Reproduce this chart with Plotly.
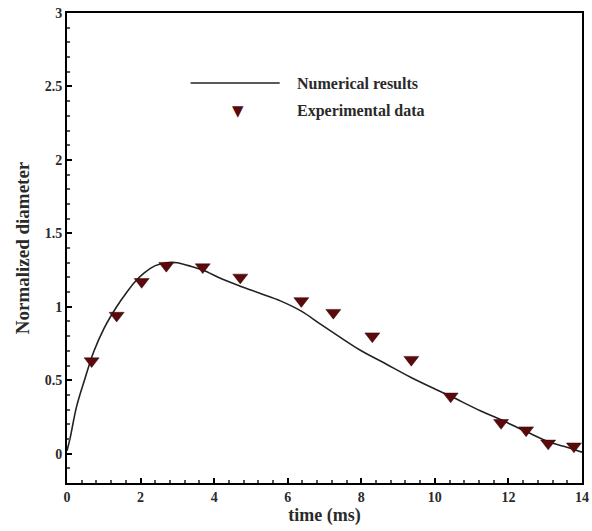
import plotly.graph_objects as go

# Numerical results (line)
num_time = [0.0, 0.08, 0.26, 0.5, 0.72, 1.0, 1.35, 1.6, 1.85, 2.1, 2.4, 2.7, 3.0, 3.3, 3.69,
            4.2, 4.71, 5.26, 5.8, 6.37, 6.9, 7.44, 8.0, 8.6, 9.34, 10.0, 10.43, 11.25, 11.8,
            12.48, 13.1, 13.5, 14.0]
num_diam = [0.02, 0.1, 0.32, 0.52, 0.69, 0.85, 1.0, 1.09, 1.17, 1.23, 1.28, 1.30, 1.30, 1.28, 1.25,
            1.19, 1.14, 1.09, 1.04, 0.97, 0.88, 0.79, 0.70, 0.62, 0.52, 0.44, 0.39, 0.29, 0.23,
            0.15, 0.08, 0.05, 0.01]

# Experimental data (markers)
exp_time = [0.67, 1.35, 2.03, 2.70, 3.69, 4.71, 6.37, 7.24, 8.30, 9.36, 10.43, 11.80, 12.48, 13.08, 13.78]
exp_diam = [0.63, 0.94, 1.17, 1.28, 1.27, 1.20, 1.04, 0.96, 0.80, 0.64, 0.39, 0.21, 0.16, 0.07, 0.05]

legend_labels = ["Numerical results", "Experimental data"]
x_ticks = [0, 2, 4, 6, 8, 10, 12, 14]
y_ticks = [0, 0.5, 1, 1.5, 2, 2.5, 3]
y_tick_text = ["0", "0.5", "1", "1.5", "2", "2.5", "3"]

MARKER_COLOR = "#5a0a0c"
FONT = "Liberation Serif"
TEXT_COLOR = "#2a2a2a"

fig = go.Figure()
fig.add_trace(go.Scatter(x=num_time, y=num_diam, mode="lines", name=legend_labels[0],
                         line=dict(color="#222222", width=1.6, shape="spline", smoothing=1.0),
                         showlegend=False))
fig.add_trace(go.Scatter(x=exp_time, y=exp_diam, mode="markers", name=legend_labels[1],
                         marker=dict(symbol="triangle-down", size=13, color=MARKER_COLOR,
                                     line=dict(color="#3a0505", width=0.5)), showlegend=False))

# custom legend (long line sample as in the original)
fig.add_shape(type="line", xref="paper", yref="paper", x0=0.240, x1=0.413, y0=0.851, y1=0.851,
              line=dict(color="#222222", width=1.6))
fig.add_annotation(xref="paper", yref="paper", x=0.443, y=0.851, xanchor="left", yanchor="middle",
                   text="<b>" + legend_labels[0] + "</b>", showarrow=False,
                   font=dict(family=FONT, size=16, color=TEXT_COLOR))
fig.add_annotation(xref="paper", yref="paper", x=0.333, y=0.792, xanchor="center", yanchor="middle",
                   text="▼", showarrow=False, font=dict(family="DejaVu Sans", size=15, color=MARKER_COLOR))
fig.add_annotation(xref="paper", yref="paper", x=0.443, y=0.792, xanchor="left", yanchor="middle",
                   text="<b>" + legend_labels[1] + "</b>", showarrow=False,
                   font=dict(family=FONT, size=16, color=TEXT_COLOR))

axis_common = dict(showline=True, linecolor="black", linewidth=2, mirror=True,
                   ticks="inside", tickcolor="black", ticklen=5, tickwidth=1.5,
                   showgrid=False, zeroline=False, automargin=False,
                   tickfont=dict(family=FONT, size=14, color=TEXT_COLOR))

fig.update_xaxes(range=[0, 14], tickvals=x_ticks, ticktext=["<b>%d</b>" % v for v in x_ticks],
                 minor=dict(dtick=0.4, tick0=0, ticks="inside", ticklen=3, tickcolor="#555555"),
                 title=dict(text="<b>time (ms)</b>", font=dict(family=FONT, size=18, color=TEXT_COLOR),
                            standoff=2),
                 **axis_common)
fig.update_yaxes(range=[-0.2, 3], tickvals=y_ticks, ticktext=["<b>%s</b>" % t for t in y_tick_text],
                 minor=dict(dtick=0.1, tick0=0, ticks="inside", ticklen=3, tickcolor="#555555"),
                 title=dict(text="<b>Normalized diameter</b>", font=dict(family=FONT, size=19, color=TEXT_COLOR),
                            standoff=10),
                 **axis_common)

fig.update_layout(width=592, height=531, margin=dict(l=67, r=10, t=13, b=48),
                  plot_bgcolor="white", paper_bgcolor="white", showlegend=False)

fig.write_html("out.html")
